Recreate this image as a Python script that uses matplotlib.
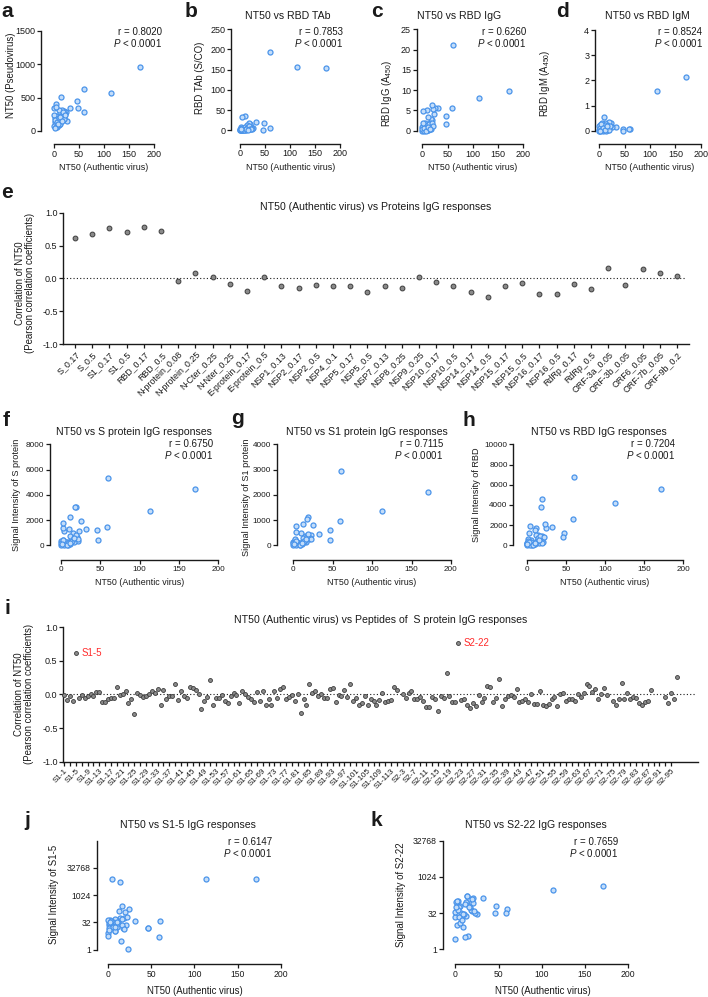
import matplotlib
matplotlib.use("Agg")
import matplotlib.pyplot as plt
from matplotlib.ticker import NullLocator
import numpy as np

plt.rcParams['font.family'] = ['Liberation Sans', 'DejaVu Sans']
plt.rcParams['mathtext.fontset'] = 'custom'
plt.rcParams['mathtext.rm'] = 'Liberation Sans'
plt.rcParams['mathtext.it'] = 'Liberation Sans:italic'
plt.rcParams['axes.unicode_minus'] = False

W, H = 708, 997
PT = 0.72            # points per pixel at dpi 100
TXT = '#1a1a1a'

# ---------------- data ----------------
# NT50 (authentic virus) for each serum sample, shared by all scatter panels
nt50 = [171, 113, 60, 59, 47, 46, 32, 25, 23, 21, 20, 19, 18, 16, 15, 14, 13, 12,
        11, 10, 9, 8, 7, 6, 5, 4, 3, 2, 1, 0, 0, 0, 2, 4, 6, 9, 12, 14, 17, 19,
        22, 3, 8, 11, 16, 1]

nt50_pseudo = [964, 567, 626, 278, 338, 447, 343, 150, 280, 250, 300, 200, 260, 220,
               310, 507, 180, 270, 120, 320, 90, 150, 210, 60, 100, 230, 408, 130,
               200, 338, 240, 80, 170, 60, 140, 190, 110, 230, 290, 180, 240, 360,
               100, 210, 150, 50]
rbd_tab = [155, 156, 194, 6, 19, 0, 21, 5, 3, 8, 12, 15, 17, 2, 10, 5, 14, 0, 3, 36,
           1, 6, 2, 0, 4, 1, 2, 0, 7, 0, 3, 1, 0, 5, 1, 9, 2, 6, 11, 4, 2, 32, 0, 4,
           1, 3]
rbd_igg = [9.9, 8.1, 21.1, 5.7, 1.6, 3.6, 5.5, 5.6, 4.2, 5.4, 2.7, 6.3, 3.0, 0.4, 1.8,
           0.8, 1.3, 3.5, 0.2, 5.1, 0.6, 1.2, 0.3, 1.9, 0.9, 0.1, 1.5, 0.5, 0.2, 0.0,
           1.0, 0.3, 4.8, 0.0, 0.6, 1.4, 0.1, 1.7, 0.5, 2.0, 1.1, 0.7, 0.0, 0.9, 0.4, 1.8]
rbd_igm = [2.13, 1.6, 0.08, 0.07, 0.09, 0.0, 0.16, 0.15, 0.3, 0.2, 0.1, 0.35, 0.05,
           0.25, 0.1, 0.02, 0.2, 0.12, 0.3, 0.55, 0.05, 0.0, 0.15, 0.25, 0.02, 0.1,
           0.2, 0.0, 0.25, 0.05, 0.0, 0.18, 0.1, 0.02, 0.3, 0.08, 0.22, 0.0, 0.12,
           0.03, 0.18, 0.26, 0.1, 0.04, 0.2, 0.0]
s_signal = [4460, 2720, 5360, 1425, 396, 1190, 1294, 1900, 1135, 380, 660, 3060, 3000,
            250, 950, 520, 400, 2217, 100, 1267, 50, 300, 200, 120, 80, 1109, 1373,
            400, 180, 50, 350, 200, 1795, 0, 250, 150, 700, 330, 600, 800, 500, 420,
            30, 150, 540, 100]
s1_signal = [2111, 1370, 2930, 950, 211, 607, 436, 792, 420, 300, 250, 1109, 1050, 120,
             380, 200, 150, 845, 60, 480, 30, 90, 80, 40, 150, 766, 541, 200, 90, 20,
             150, 80, 250, 0, 110, 70, 300, 180, 350, 430, 250, 180, 10, 90, 260, 40]
rbd_signal = [5560, 4210, 6740, 2570, 1180, 820, 1840, 1710, 2100, 300, 955, 4540, 3820,
              200, 1020, 600, 400, 1680, 150, 1510, 100, 250, 50, 300, 500, 1875, 1250,
              625, 200, 100, 180, 0, 400, 60, 350, 150, 1000, 700, 900, 263, 800, 300,
              20, 200, 500, 80]
s1_5_signal = [8192, 8192, 39, 5, 16, 16, 37, 181, 1.04, 23, 128, 60, 16, 256, 3, 60,
               137, 37, 18, 45, 11, 52, 24, 32, 8192, 32, 42, 23, 28, 45, 8, 5.7, 16,
               37, 18, 10.6, 30, 5793, 23, 14, 64, 32, 18, 34, 49, 12]
s2_22_signal = [431, 294, 49, 32, 64, 32, 137, 28, 32, 137, 84, 39, 45, 128, 3.7, 169,
                74, 24, 3.2, 28, 8.6, 24, 32, 64, 23, 56, 104, 10.6, 91, 2.8, 23, 37,
                104, 21, 12, 30, 97, 158, 60, 119, 39, 42, 16, 74, 56, 60]

protein_labels = ['S_0.17', 'S_0.5', 'S1_0.17', 'S1_0.5', 'RBD_0.17', 'RBD_0.5',
                  'N-protein_0.08', 'N-protein_0.25', 'N-Cter_0.25', 'N-Nter_0.25',
                  'E-protein_0.17', 'E-protein_0.5', 'NSP1_0.13', 'NSP2_0.17', 'NSP2_0.5',
                  'NSP4_0.1', 'NSP5_0.17', 'NSP5_0.5', 'NSP7_0.13', 'NSP8_0.25',
                  'NSP9_0.25', 'NSP10_0.17', 'NSP10_0.5', 'NSP14_0.17', 'NSP14_0.5',
                  'NSP15_0.17', 'NSP15_0.5', 'NSP16_0.17', 'NSP16_0.5', 'RdRp_0.17',
                  'RdRp_0.5', 'ORF-3a_0.05', 'ORF-3b_0.05', 'ORF6_0.05', 'ORF-7b_0.05',
                  'ORF-9b_0.2']
protein_r = [0.62, 0.675, 0.76, 0.71, 0.78, 0.72, -0.045, 0.09, 0.025, -0.08, -0.19,
             0.02, -0.12, -0.15, -0.10, -0.12, -0.115, -0.20, -0.12, -0.145, 0.02,
             -0.05, -0.12, -0.20, -0.28, -0.11, -0.07, -0.24, -0.23, -0.085, -0.16,
             0.16, -0.105, 0.15, 0.09, 0.035]

peptide_names = ['S1-%d' % n for n in range(1, 115)] + ['S2-%d' % n for n in range(1, 98)]
nan = float('nan')
peptide_r = [
    -0.015, -0.08, -0.02, -0.10, 0.62, -0.05, -0.01, -0.05, -0.03, 0.0,
    -0.03, 0.04, 0.04, -0.12, -0.12, -0.075, -0.06, -0.055, 0.105, -0.01,
    0.005, 0.05, -0.135, -0.075, -0.29, 0.02, -0.005, -0.035, -0.025, 0.0,
    0.05, 0.015, 0.075, -0.165, 0.06, -0.075, -0.025, -0.025, 0.155, -0.09,
    0.045, -0.02, -0.06, 0.105, 0.10, 0.06, 0.005, -0.215, -0.10, -0.035,
    0.22, -0.165, -0.05, -0.05, -0.015, -0.105, -0.125, -0.025, 0.015, -0.005,
    -0.125, 0.055, 0.01, -0.045, -0.07, -0.12, 0.03, -0.10, 0.055, -0.155,
    -0.07, -0.165, 0.045, -0.05, 0.08, 0.105, -0.065, -0.035, -0.005, -0.095,
    0.005, -0.27, -0.065, -0.165, 0.15, 0.025, 0.055, -0.02, 0.0, -0.05,
    -0.05, 0.075, 0.10, -0.11, -0.015, -0.03, 0.07, -0.045, 0.15, -0.095,
    -0.055, -0.155,
    -0.13, -0.025, -0.155, -0.075, -0.10, -0.165, -0.09, 0.02, -0.12, -0.10,
    -0.09, 0.11, 0.06,
    nan,
    0.01, -0.055, 0.025, 0.045, -0.075, -0.075, -0.045, -0.10, -0.19, -0.19,
    -0.045, -0.07, -0.24, -0.02, -0.06, 0.31, -0.025, -0.115, -0.11,
    0.765,
    -0.085, -0.07, -0.165, -0.20, -0.13, -0.175, -0.005, -0.115, -0.05, 0.12,
    0.105, -0.115, -0.05, 0.235, -0.17, -0.075, -0.03, -0.005, -0.045, 0.085,
    -0.12, -0.10, -0.075, -0.11, 0.01, -0.14, -0.15, 0.055, -0.16, -0.18,
    -0.145, -0.075, -0.035, -0.175, 0.005, 0.025, -0.10, -0.075, -0.075, -0.10,
    0.01, -0.035, 0.025, 0.155, 0.125, 0.035, 0.075, -0.075, 0.01, 0.10,
    -0.015,
    nan,
    -0.10, -0.165, -0.075, 0.165, -0.075, 0.025, -0.075, -0.035, -0.05, -0.135,
    -0.165, -0.115, -0.095, 0.065,
    nan, nan, nan, nan,
    -0.035, -0.125, 0.025, -0.075, 0.26]
assert len(peptide_r) == len(peptide_names)

fig = plt.figure(figsize=(W / 100, H / 100), dpi=100)


def ftext(x, y, s, **kw):
    kw.setdefault('color', TXT)
    fig.text(x / W, 1 - y / H, s, **kw)


def box_axes(l, t, r, b):
    return fig.add_axes([l / W, 1 - b / H, (r - l) / W, (b - t) / H])


def style(ax, left_off=0, bottom_off=0, fs=6.5):
    for s in ['top', 'right']:
        ax.spines[s].set_visible(False)
    for s in ['left', 'bottom']:
        ax.spines[s].set_linewidth(1.0)
        ax.spines[s].set_color(TXT)
    ax.spines['left'].set_position(('outward', left_off * PT))
    ax.spines['bottom'].set_position(('outward', bottom_off * PT))
    ax.tick_params(direction='out', length=2.6, width=0.9, colors=TXT,
                   labelsize=fs, pad=1.5)
    ax.patch.set_visible(False)


def scatter_panel(box, y, ylim, yticks, offs, ylog=False, fs=6.5):
    ax = box_axes(*box)
    ax.scatter(nt50, y, s=13, facecolor='#c4ddf9', edgecolor='#4a94ea',
               linewidth=0.9, clip_on=False, zorder=3)
    if ylog:
        ax.set_yscale('log', base=2)
    ax.set_xlim(0, 200)
    ax.set_ylim(*ylim)
    ax.set_xticks([0, 50, 100, 150, 200])
    ax.set_yticks(yticks)
    ax.set_yticklabels([str(v) for v in yticks])
    ax.yaxis.set_minor_locator(NullLocator())
    style(ax, offs[0], offs[1], fs)
    return ax


def r_text(x, y, r):
    ftext(x, y, 'r = %s' % r, ha='right', va='center', fontsize=7)
    ftext(x, y + 11, r'$\mathit{P}$ < 0.0001', ha='right', va='center', fontsize=7)


LET = dict(fontsize=15, fontweight='bold', va='baseline', ha='left')
TIT = dict(fontsize=7.6, ha='center', va='center')
XL = dict(fontsize=6.4, ha='center', va='center')
YL = dict(fontsize=6.9, ha='center', va='center', rotation=90)
YL2 = dict(fontsize=6.6, ha='center', va='center', rotation=90)

# ---------------- row 1: a-d ----------------
scatter_panel((54, 30.7, 154, 131), nt50_pseudo, (0, 1500), [0, 500, 1000, 1500], (13, 13))
ftext(1, 17, 'a', **LET)
r_text(162, 32, '0.8020')
ftext(104, 167, 'NT50 (Authentic virus)', **XL)
ftext(11, 75, 'NT50 (Pseudovirus)', **YL)

scatter_panel((240, 29.3, 340, 130.3), rbd_tab, (0, 250), [0, 50, 100, 150, 200, 250], (9, 13.5))
ftext(185, 17, 'b', **LET)
ftext(288, 16, 'NT50 vs RBD TAb', **TIT)
r_text(343, 32, '0.7853')
ftext(291, 167, 'NT50 (Authentic virus)', **XL)
ftext(200, 78, 'RBD TAb (S/CO)', **YL)

scatter_panel((422.3, 29.3, 523.3, 130.7), rbd_igg, (0, 25), [0, 5, 10, 15, 20, 25], (5.6, 13.3))
ftext(371, 17, 'c', **LET)
ftext(459, 16, 'NT50 vs RBD IgG', **TIT)
r_text(526, 32, '0.6260')
ftext(473, 167, 'NT50 (Authentic virus)', **XL)
ftext(387, 93, 'RBD IgG (A$_{450}$)', **YL)

scatter_panel((599.3, 30, 700.7, 131), rbd_igm, (0, 4), [0, 1, 2, 3, 4], (4.3, 13))
ftext(556, 17, 'd', **LET)
ftext(647, 16, 'NT50 vs RBD IgM', **TIT)
r_text(702.5, 32, '0.8524')
ftext(650, 167, 'NT50 (Authentic virus)', **XL)
ftext(545, 83, 'RBD IgM (A$_{450}$)', **YL)

# ---------------- e: proteins ----------------
ax = box_axes(63.3, 212.7, 689, 344.3)
xp = np.arange(len(protein_labels))
ax.axhline(0, color=TXT, linestyle=(0, (1, 2)), linewidth=0.8, xmax=0.995)
ax.scatter(xp, protein_r, s=12, facecolor='#8a8a8a', edgecolor='#3c3c3c',
           linewidth=0.7, zorder=3, clip_on=False)
ax.set_xlim(-0.68, 35.7)
ax.set_ylim(-1, 1)
ax.set_yticks([-1, -0.5, 0, 0.5, 1])
ax.set_yticklabels(['-1.0', '-0.5', '0.0', '0.5', '1.0'])
ax.set_xticks(xp)
style(ax, 0, 0, 6.5)
ax.set_xticklabels(protein_labels, rotation=45, ha='right', rotation_mode='anchor', fontsize=6.4)
ftext(1, 198, 'e', **LET)
ftext(376, 206.7, 'NT50 (Authentic virus) vs Proteins IgG responses', **TIT)
ftext(25, 283, 'Correlation of NT50\n(Pearson correlation coefficients)',
      fontsize=6.9, ha='center', va='center', rotation=90, linespacing=1.0)

# ---------------- row f-h ----------------
scatter_panel((61, 444.3, 218.3, 545.3), s_signal, (0, 8000), [0, 2000, 4000, 6000, 8000],
              (11, 14.7), fs=5.9)
ftext(3, 426, 'f', **LET)
ftext(134, 431.7, 'NT50 vs S protein IgG responses', **TIT)
r_text(213.3, 444.3, '0.6750')
ftext(140, 582, 'NT50 (Authentic virus)', **XL)
ftext(17, 495, 'Signal Intensity of S protein', **YL2)

scatter_panel((293.3, 444.3, 451, 545.3), s1_signal, (0, 4000), [0, 1000, 2000, 3000, 4000],
              (16.6, 14.7), fs=5.9)
ftext(231, 424, 'g', **LET)
ftext(367, 431.7, 'NT50 vs S1 protein IgG responses', **TIT)
r_text(443.3, 444.3, '0.7115')
ftext(372, 582, 'NT50 (Authentic virus)', **XL)
ftext(247, 497, 'Signal Intensity of S1 protein', **YL2)

scatter_panel((526.7, 444.3, 683.3, 545.3), rbd_signal, (0, 10000), [0, 2000, 4000, 6000, 8000, 10000],
              (13.3, 14.7), fs=5.9)
ftext(463, 426, 'h', **LET)
ftext(599, 431.7, 'NT50 vs RBD IgG responses', **TIT)
r_text(675, 444.3, '0.7204')
ftext(605, 582, 'NT50 (Authentic virus)', **XL)
ftext(476.5, 495, 'Signal Intensity of RBD', **YL2)

# ---------------- i: peptides ----------------
ax = box_axes(63.3, 627, 698, 761.7)
xq = np.arange(len(peptide_names))
ax.axhline(0, color=TXT, linestyle=(0, (1, 2)), linewidth=0.8, xmax=0.995)
ax.scatter(xq, peptide_r, s=8, facecolor='#8a8a8a', edgecolor='#3c3c3c',
           linewidth=0.6, zorder=3, clip_on=False)
ax.set_xlim(-0.34, 217.2)
ax.set_ylim(-1, 1)
ax.set_yticks([-1, -0.5, 0, 0.5, 1])
ax.set_yticklabels(['-1.0', '-0.5', '0.0', '0.5', '1.0'])
tick_pos = list(range(0, 209, 2))
ax.set_xticks(tick_pos)
style(ax, 0, 0, 6.5)
ax.set_xticklabels([peptide_names[p] if p % 4 == 0 else '' for p in tick_pos],
                   rotation=45, ha='right', rotation_mode='anchor', fontsize=5.8)
i5 = peptide_names.index('S1-5')
i22 = peptide_names.index('S2-22')
ax.annotate('S1-5', (i5, peptide_r[i5]), xytext=(4, 0), textcoords='offset points',
            color='#ff2a2a', fontsize=7, va='center')
ax.annotate('S2-22', (i22, peptide_r[i22]), xytext=(4, 0), textcoords='offset points',
            color='#ff2a2a', fontsize=7, va='center')
ftext(5, 614, 'i', **LET)
ftext(380.5, 620, 'NT50 (Authentic virus) vs Peptides of  S protein IgG responses', **TIT)
ftext(24, 694, 'Correlation of NT50\n(Pearson correlation coefficients)',
      fontsize=6.9, ha='center', va='center', rotation=90, linespacing=1.0)

# ---------------- j, k ----------------
scatter_panel((107.7, 840.7, 281, 949.7), s1_5_signal, (1, 2 ** 20), [1, 32, 1024, 32768],
              (11, 14.3), ylog=True, fs=6.2)
ftext(24, 826, 'j', **LET)
ftext(188, 825, 'NT50 vs S1-5 IgG responses', **TIT)
r_text(271.7, 841.7, '0.6147')
ftext(195, 991, 'NT50 (Authentic virus)', fontsize=6.9, ha='center', va='center')
ftext(54, 894, 'Signal Intensity of S1-5', **YL)

scatter_panel((455.3, 840.7, 628.3, 949.3), s2_22_signal, (1, 2 ** 15), [1, 32, 1024, 32768],
              (12.6, 14.7), ylog=True, fs=6.2)
ftext(371, 826, 'k', **LET)
ftext(536, 825, 'NT50 vs S2-22 IgG responses', **TIT)
r_text(618, 841.7, '0.7659')
ftext(543, 991, 'NT50 (Authentic virus)', fontsize=6.9, ha='center', va='center')
ftext(401, 895, 'Signal Intensity of S2-22', **YL)

fig.savefig('out.png', dpi=100)
